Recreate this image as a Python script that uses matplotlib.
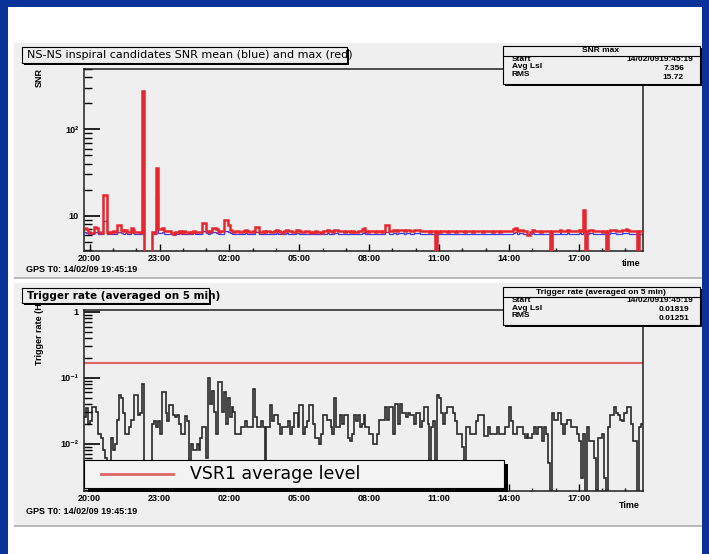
import matplotlib
matplotlib.use("Agg")
import matplotlib.pyplot as plt
import matplotlib.dates as mdates
from matplotlib.patches import Rectangle
from matplotlib.lines import Line2D
from matplotlib.ticker import LogLocator, FuncFormatter, NullFormatter
import numpy as np
import pandas as pd

# 5-minute bins starting at GPS T0 (one row per hour)
snr_max = [
    7.2, 7.0, 6.4, 6.3, 6.3, 7.3, 7.2, 6.4, 6.3, 6.3, 17.5, 17.5,
    6.4, 6.3, 6.4, 6.6, 6.4, 7.8, 7.8, 6.9, 6.6, 6.8, 6.4, 6.5,
    7.2, 6.9, 6.4, 6.4, 6.4, 6.3, 280, 0, 0, 0, 0, 6.4,
    6.3, 36, 7.0, 7.0, 7.2, 6.6, 6.6, 6.6, 6.6, 6.3, 6.1, 6.4,
    6.4, 6.6, 6.3, 6.6, 6.4, 6.4, 6.3, 6.4, 6.6, 6.4, 6.4, 6.4,
    6.4, 8.2, 8.2, 6.6, 6.4, 6.6, 7.2, 7.2, 7.0, 6.5, 6.6, 6.6,
    8.8, 8.8, 7.8, 6.9, 6.5, 6.4, 6.6, 6.6, 6.4, 6.4, 6.6, 6.9,
    6.6, 6.4, 6.4, 6.6, 7.3, 7.3, 6.5, 6.4, 6.6, 6.4, 6.6, 6.6,
    6.4, 6.4, 6.6, 6.8, 6.6, 6.4, 6.3, 6.6, 6.8, 6.6, 6.6, 6.4,
    6.4, 6.9, 6.9, 6.6, 6.4, 6.4, 6.6, 6.6, 6.4, 6.3, 6.4, 6.6,
    6.4, 6.4, 6.3, 6.6, 6.6, 6.8, 6.6, 6.6, 6.4, 6.9, 6.9, 6.6,
    6.6, 6.6, 6.4, 6.6, 6.6, 6.4, 6.6, 6.4, 6.4, 6.6, 6.6, 7.0,
    7.2, 6.6, 6.4, 6.6, 6.6, 6.6, 6.4, 6.6, 6.6, 6.4, 6.6, 7.8,
    7.8, 6.6, 6.6, 6.9, 6.9, 6.6, 6.9, 6.9, 6.9, 6.6, 6.9, 6.9,
    6.6, 6.6, 6.9, 6.9, 6.9, 6.6, 6.6, 6.6, 6.6, 6.6, 6.4, 6.6,
    6.6, 0, 6.6, 6.4, 6.6, 6.6, 6.6, 6.4, 6.6, 6.6, 6.6, 6.4,
    6.6, 6.6, 6.6, 6.6, 6.4, 6.6, 6.6, 6.6, 6.4, 6.6, 6.6, 6.6,
    6.6, 6.4, 6.6, 6.6, 6.6, 6.6, 6.4, 6.6, 6.6, 6.6, 6.4, 6.6,
    6.6, 6.6, 6.6, 6.6, 6.6, 7.0, 7.2, 6.6, 6.9, 6.9, 6.6, 6.6,
    6.0, 6.0, 6.4, 6.9, 6.6, 6.6, 6.6, 6.4, 6.6, 6.6, 6.6, 6.6,
    0, 6.6, 6.6, 6.6, 6.6, 6.9, 6.6, 6.6, 6.6, 6.9, 6.6, 6.6,
    6.6, 6.6, 6.6, 6.9, 6.6, 11.7, 0, 6.6, 6.9, 6.9, 6.6, 6.6,
    6.6, 6.6, 6.6, 6.4, 6.6, 0, 6.6, 6.9, 6.9, 6.9, 6.6, 6.6,
    6.6, 6.9, 6.9, 7.0, 6.9, 6.6, 6.6, 6.6, 6.6, 0, 6.6, 6.6,
]

snr_mean = [
    6.4, 6.3, 6.2, 6.2, 6.2, 6.4, 6.4, 6.2, 6.2, 6.2, 8.6, 8.6,
    6.2, 6.2, 6.2, 6.2, 6.2, 6.5, 6.5, 6.3, 6.2, 6.3, 6.2, 6.2,
    6.4, 6.3, 6.2, 6.2, 6.2, 6.2, 18.5, 0, 0, 0, 0, 6.2,
    6.2, 16.7, 6.3, 6.3, 6.4, 6.2, 6.2, 6.2, 6.2, 6.2, 6.0, 6.2,
    6.2, 6.3, 6.2, 6.2, 6.2, 6.2, 6.2, 6.2, 6.3, 6.2, 6.2, 6.2,
    6.2, 6.6, 6.6, 6.3, 6.2, 6.3, 6.4, 6.4, 6.3, 6.2, 6.2, 6.2,
    6.7, 6.7, 6.5, 6.3, 6.2, 6.2, 6.2, 6.2, 6.2, 6.2, 6.2, 6.3,
    6.2, 6.2, 6.2, 6.2, 6.4, 6.4, 6.2, 6.2, 6.2, 6.2, 6.2, 6.2,
    6.2, 6.2, 6.2, 6.3, 6.2, 6.2, 6.2, 6.2, 6.3, 6.2, 6.2, 6.2,
    6.2, 6.3, 6.3, 6.2, 6.2, 6.2, 6.2, 6.2, 6.2, 6.2, 6.2, 6.2,
    6.2, 6.2, 6.2, 6.2, 6.2, 6.3, 6.2, 6.2, 6.2, 6.3, 6.3, 6.2,
    6.2, 6.2, 6.2, 6.2, 6.2, 6.2, 6.2, 6.2, 6.2, 6.2, 6.2, 6.3,
    6.4, 6.2, 6.2, 6.2, 6.2, 6.2, 6.2, 6.2, 6.2, 6.2, 6.2, 6.5,
    6.5, 6.2, 6.2, 6.3, 6.3, 6.2, 6.3, 6.3, 6.3, 6.2, 6.3, 6.3,
    6.2, 6.2, 6.3, 6.3, 6.3, 6.2, 6.2, 6.2, 6.2, 6.2, 6.2, 6.2,
    6.2, 0, 6.2, 6.2, 6.2, 6.2, 6.2, 6.2, 6.2, 6.2, 6.2, 6.2,
    6.2, 6.2, 6.2, 6.2, 6.2, 6.2, 6.2, 6.2, 6.2, 6.2, 6.2, 6.2,
    6.2, 6.2, 6.2, 6.2, 6.2, 6.2, 6.2, 6.2, 6.2, 6.2, 6.2, 6.2,
    6.2, 6.2, 6.2, 6.2, 6.2, 6.3, 6.4, 6.2, 6.3, 6.3, 6.2, 6.2,
    6.0, 6.0, 6.2, 6.3, 6.2, 6.2, 6.2, 6.2, 6.2, 6.2, 6.2, 6.2,
    0, 6.2, 6.2, 6.2, 6.2, 6.3, 6.2, 6.2, 6.2, 6.3, 6.2, 6.2,
    6.2, 6.2, 6.2, 6.3, 6.2, 7.0, 0, 6.2, 6.3, 6.3, 6.2, 6.2,
    6.2, 6.2, 6.2, 6.2, 6.2, 0, 6.2, 6.3, 6.3, 6.3, 6.2, 6.2,
    6.2, 6.3, 6.3, 6.3, 6.3, 6.2, 6.2, 6.2, 6.2, 0, 6.2, 6.2,
]

# trigger rate in mHz, same binning
rate_mhz = [
    25, 35, 20, 22, 36, 36, 30, 14, 14, 12, 8, 6,
    4, 4, 12, 8, 10, 23, 55, 50, 29, 14, 14, 18,
    23, 23, 55, 55, 27, 29, 80, 0, 0, 0, 0, 20,
    22, 18, 22, 14, 60, 60, 29, 22, 39, 39, 27, 25,
    27, 20, 14, 14, 26, 22, 4, 10, 8, 8, 10, 8,
    12, 18, 18, 6, 100, 40, 62, 30, 14, 85, 85, 30,
    60, 20, 50, 25, 36, 30, 14, 14, 14, 18, 18, 22,
    18, 18, 18, 68, 25, 18, 18, 22, 18, 4, 18, 18,
    39, 22, 27, 27, 20, 14, 18, 18, 18, 22, 14, 18,
    29, 29, 18, 39, 39, 14, 18, 22, 39, 39, 20, 12,
    12, 10, 14, 27, 27, 23, 23, 18, 14, 50, 18, 18,
    27, 20, 27, 27, 12, 11, 14, 27, 22, 27, 18, 20,
    27, 18, 18, 14, 14, 10, 10, 14, 23, 23, 23, 36,
    23, 36, 36, 14, 40, 40, 20, 40, 29, 29, 25, 29,
    27, 27, 20, 29, 29, 18, 22, 36, 36, 20, 5, 18,
    22, 0, 55, 50, 29, 20, 29, 36, 36, 36, 29, 22,
    14, 14, 14, 9, 4, 18, 18, 14, 14, 14, 22, 27,
    27, 27, 13, 13, 18, 14, 14, 14, 14, 18, 14, 14,
    14, 18, 18, 36, 22, 14, 14, 18, 18, 18, 14, 12,
    14, 12, 12, 14, 18, 14, 18, 18, 11, 18, 14, 5,
    0, 29, 23, 23, 29, 29, 20, 14, 20, 23, 23, 18,
    18, 18, 14, 11, 3, 14, 0, 18, 11, 11, 11, 6,
    2, 12, 12, 14, 3, 0, 18, 27, 27, 36, 29, 27,
    23, 22, 29, 29, 36, 36, 20, 11, 11, 0, 18, 20,
]

vsr1_level = 0.17
t0 = pd.Timestamp("2009-02-14 19:45:19")

snr_stats = [("Start", "14/02/0919:45:19"), ("Avg Lsl", "7.356"), ("RMS", "15.72")]
rate_stats = [("Start", "14/02/0919:45:19"), ("Avg Lsl", "0.01819"), ("RMS", "0.01251")]

W, H = 709, 554
PANEL = "#efefef"

plt.rcParams["font.family"] = ["Liberation Sans", "DejaVu Sans"]
plt.rcParams["font.weight"] = "bold"

fig = plt.figure(figsize=(W / 100, H / 100), dpi=100)
fig.patch.set_facecolor("white")


def rect(x0, y0, x1, y1, **kw):
    fig.add_artist(Rectangle((x0 / W, 1 - y1 / H), (x1 - x0) / W, (y1 - y0) / H,
                             transform=fig.transFigure, **kw))


def text(x, y, s, **kw):
    fig.text(x / W, 1 - y / H, s, **kw)


def hline(x0, x1, y, **kw):
    fig.add_artist(Line2D([x0 / W, x1 / W], [1 - y / H, 1 - y / H],
                          transform=fig.transFigure, **kw))


def pave(x0, y0, x1, y1, shadow=2, face=PANEL, z=5):
    rect(x0 + shadow, y0 + shadow, x1 + shadow, y1 + shadow,
         facecolor="black", edgecolor="none", zorder=z)
    rect(x0, y0, x1, y1, facecolor=face, edgecolor="black", linewidth=0.8, zorder=z)


# frame and canvas pads
rect(0, 0, 8, H, facecolor="#0a3399", edgecolor="none", zorder=-2)
rect(0, 0, W, 7, facecolor="#0a3399", edgecolor="none", zorder=-2)
rect(702, 0, W, H, facecolor="#0a3399", edgecolor="none", zorder=-2)
for y0, y1 in [(43, 277), (283, 525)]:
    rect(14, y0, 702, y1 + 2, facecolor="#b8b8b8", edgecolor="none", zorder=-1.5)
    rect(14, y0, 702, y1, facecolor=PANEL, edgecolor="none", zorder=-1)

edges = mdates.date2num(pd.date_range(t0, periods=len(snr_max) + 1, freq="5min").to_pydatetime())

ax1 = fig.add_axes([84 / W, 1 - 251 / H, 559 / W, 182 / H])
ax2 = fig.add_axes([84 / W, 1 - 491 / H, 559 / W, 181 / H])

top_labels = {10: "10", 100: "10²"}
bot_labels = {1: "1", 0.1: "10⁻¹", 0.01: "10⁻²"}

for ax, labels in [(ax1, top_labels), (ax2, bot_labels)]:
    ax.set_facecolor("none")
    ax.set_yscale("log")
    ax.xaxis_date()
    ax.set_xlim(edges[0], edges[-1])
    ax.xaxis.set_major_locator(mdates.HourLocator(byhour=[2, 5, 8, 11, 14, 17, 20, 23]))
    ax.xaxis.set_minor_locator(mdates.HourLocator())
    ax.xaxis.set_major_formatter(mdates.DateFormatter("%H:%M"))
    ax.yaxis.set_major_locator(LogLocator(base=10, numticks=10))
    ax.yaxis.set_minor_locator(LogLocator(base=10, subs=np.arange(2, 10), numticks=20))
    ax.yaxis.set_minor_formatter(NullFormatter())
    ax.yaxis.set_major_formatter(FuncFormatter(
        lambda v, p, lab=labels: next((s for k, s in lab.items() if abs(v / k - 1) < 1e-6), "")))
    ax.tick_params(axis="x", which="major", direction="in", length=5, width=1, pad=2, labelsize=6.5)
    ax.tick_params(axis="x", which="minor", direction="in", length=2.5, width=1)
    ax.tick_params(axis="y", which="major", direction="in", length=11.5, width=1.2, pad=4, labelsize=6.5)
    ax.tick_params(axis="y", which="minor", direction="in", length=6, width=1)
    for sp in ax.spines.values():
        sp.set_linewidth(1.1)
        sp.set_color("#202020")

# SNR panel: mean underneath, max on top
ax1.set_ylim(3.9, 500)
mx = np.array(snr_max, dtype=float)
mn = np.array(snr_mean, dtype=float)
ax1.stairs(np.where(mn > 0, mn, 0.5), edges, baseline=None, color="#3a3aee", linewidth=0.9, zorder=2)
ax1.stairs(np.where(mx > 0, mx, 0.5), edges, baseline=None, color="#e8262e", linewidth=1.8, zorder=3)

# trigger rate panel
ax2.set_ylim(0.0019, 1.07)
rate = np.array(rate_mhz, dtype=float) / 1000.0
ax2.stairs(np.where(rate > 0, rate, 1e-4), edges, baseline=None, color="#2a2a2a", linewidth=1.2)
ax2.axhline(vsr1_level, color="#e06464", linewidth=1.5)

# titles
pave(22, 47, 347, 63)
text(27, 55.5, "NS-NS inspiral candidates SNR mean (blue) and max (red)",
     family="DejaVu Sans", fontweight="normal", fontsize=8, va="center", ha="left", zorder=6)
pave(22, 288, 209, 303)
text(27, 296, "Trigger rate (averaged on 5 min)",
     family="DejaVu Sans", fontsize=7.5, va="center", ha="left", zorder=6)

# axis titles
text(39, 68, "SNR", rotation=90, fontsize=6.5, ha="center", va="top", zorder=1)
text(40, 296, "Trigger rate (Hz)", rotation=90, fontsize=6.5, ha="center", va="top", zorder=1)
text(640, 264, "time", fontsize=6.5, ha="right", va="center")
text(640, 506, "Time", fontsize=6.5, ha="right", va="center")
text(26, 270, "GPS T0: 14/02/09 19:45:19", fontsize=6.5, ha="left", va="center")
text(26, 512, "GPS T0: 14/02/09 19:45:19", fontsize=6.5, ha="left", va="center")

# stats boxes
for top, name, stats, vx in [(46, "SNR max", snr_stats, 684),
                             (287, "Trigger rate (averaged on 5 min)", rate_stats, 689)]:
    pave(503, top, 700, top + 38)
    hline(503, 700, top + 10, color="black", linewidth=0.8, zorder=6)
    text(601, top + 5, name, fontsize=6, ha="center", va="center", zorder=6)
    for i, (lab, val) in enumerate(stats):
        text(512, top + 13.5 + 7.5 * i, lab, fontsize=6, ha="left", va="center", zorder=6)
        text(693 if i == 0 else vx, top + 13.5 + 9 * i, val, fontsize=6, ha="right", va="center", zorder=6)

# legend for the reference level
pave(84, 460, 504, 488, shadow=4, face="#f3f3f3")
hline(101, 173, 473.5, color="#e06464", linewidth=2, zorder=6)
text(190, 474, "VSR1 average level", family="DejaVu Sans", fontweight="normal",
     fontsize=12.5, ha="left", va="center", zorder=6)

fig.savefig("out.png", dpi=100)
